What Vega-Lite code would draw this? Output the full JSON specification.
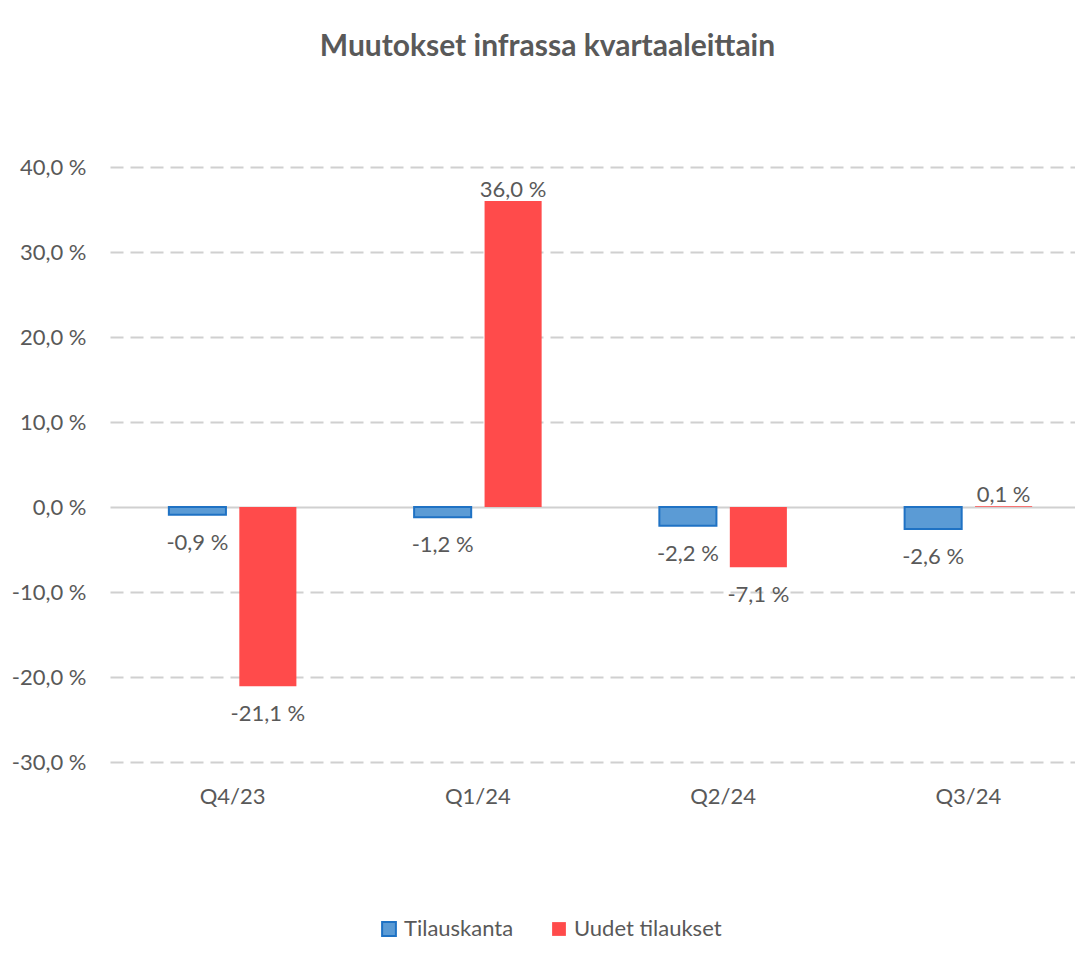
{
  "$schema": "https://vega.github.io/schema/vega-lite/v6.json",
  "width": 965,
  "height": 595,
  "autosize": {"type": "none"},
  "padding": {"left": 110, "top": 167, "right": 0, "bottom": 204},
  "background": "white",
  "title": {
    "text": "Muutokset infrassa kvartaaleittain",
    "font": "Lato",
    "fontSize": 30,
    "fontWeight": "bold",
    "color": "#595959",
    "anchor": "middle",
    "dx": -45,
    "offset": 94
  },
  "config": {
    "view": {"stroke": null},
    "font": "Lato"
  },
  "data": {
    "values": [
      {"quarter": "Q4/23", "series": "Tilauskanta", "value": -0.9},
      {"quarter": "Q4/23", "series": "Uudet tilaukset", "value": -21.1},
      {"quarter": "Q1/24", "series": "Tilauskanta", "value": -1.2},
      {"quarter": "Q1/24", "series": "Uudet tilaukset", "value": 36.0},
      {"quarter": "Q2/24", "series": "Tilauskanta", "value": -2.2},
      {"quarter": "Q2/24", "series": "Uudet tilaukset", "value": -7.1},
      {"quarter": "Q3/24", "series": "Tilauskanta", "value": -2.6},
      {"quarter": "Q3/24", "series": "Uudet tilaukset", "value": 0.1}
    ]
  },
  "transform": [
    {"calculate": "replace(replace(format(datum.value, '.1f'), '.', ','), '\u2212', '-') + ' %'", "as": "label"}
  ],
  "encoding": {
    "x": {
      "field": "quarter",
      "type": "nominal",
      "sort": ["Q4/23", "Q1/24", "Q2/24", "Q3/24"],
      "scale": {"range": [0, 981], "paddingInner": 0.48, "paddingOuter": 0.24},
      "axis": {
        "title": null,
        "labelAngle": 0,
        "labelFont": "Lato",
        "labelFontSize": 22,
        "labelColor": "#595959",
        "labelPadding": 24,
        "ticks": false,
        "domain": false,
        "grid": false
      }
    },
    "xOffset": {
      "field": "series",
      "type": "nominal",
      "sort": ["Tilauskanta", "Uudet tilaukset"],
      "scale": {"paddingInner": 0.19}
    },
    "y": {
      "field": "value",
      "type": "quantitative",
      "scale": {"domain": [-30, 40], "nice": false},
      "axis": {
        "title": null,
        "values": [-30, -20, -10, 0, 10, 20, 30, 40],
        "labelExpr": "replace(replace(format(datum.value, '.1f'), '.', ','), '\u2212', '-') + ' %'",
        "labelFont": "Lato",
        "labelFontSize": 22,
        "labelColor": "#595959",
        "labelPadding": 24,
        "ticks": false,
        "domain": false,
        "grid": true,
        "gridColor": "#D0D0D0",
        "gridWidth": 2,
        "gridDash": {"condition": {"test": "datum.value === 0", "value": []}, "value": [13, 7]}
      }
    }
  },
  "layer": [
    {
      "mark": {"type": "bar", "strokeWidth": 2},
      "encoding": {
        "color": {
          "field": "series",
          "type": "nominal",
          "sort": ["Tilauskanta", "Uudet tilaukset"],
          "scale": {"domain": ["Tilauskanta", "Uudet tilaukset"], "range": ["#5B9BD5", "#FF4B4B"]},
          "legend": {
            "title": null,
            "orient": "none",
            "legendX": 268,
            "legendY": 751,
            "direction": "horizontal",
            "symbolType": "square",
            "symbolSize": 190,
            "symbolStrokeWidth": 2,
            "labelFont": "Lato",
            "labelFontSize": 22,
            "labelColor": "#595959",
            "columnPadding": 34,
            "labelOffset": 4
          }
        },
        "stroke": {
          "field": "series",
          "type": "nominal",
          "sort": ["Tilauskanta", "Uudet tilaukset"],
          "scale": {"domain": ["Tilauskanta", "Uudet tilaukset"], "range": ["#1F72C4", "transparent"]},
          "legend": null
        }
      }
    },
    {
      "transform": [{"filter": "datum.value < 0"}],
      "mark": {"type": "text", "baseline": "middle", "dy": 28, "font": "Lato", "fontSize": 22, "color": "#595959"},
      "encoding": {"text": {"field": "label"}}
    },
    {
      "transform": [{"filter": "datum.value >= 0"}],
      "mark": {"type": "text", "baseline": "middle", "dy": -11, "font": "Lato", "fontSize": 22, "color": "#595959"},
      "encoding": {"text": {"field": "label"}}
    }
  ]
}
